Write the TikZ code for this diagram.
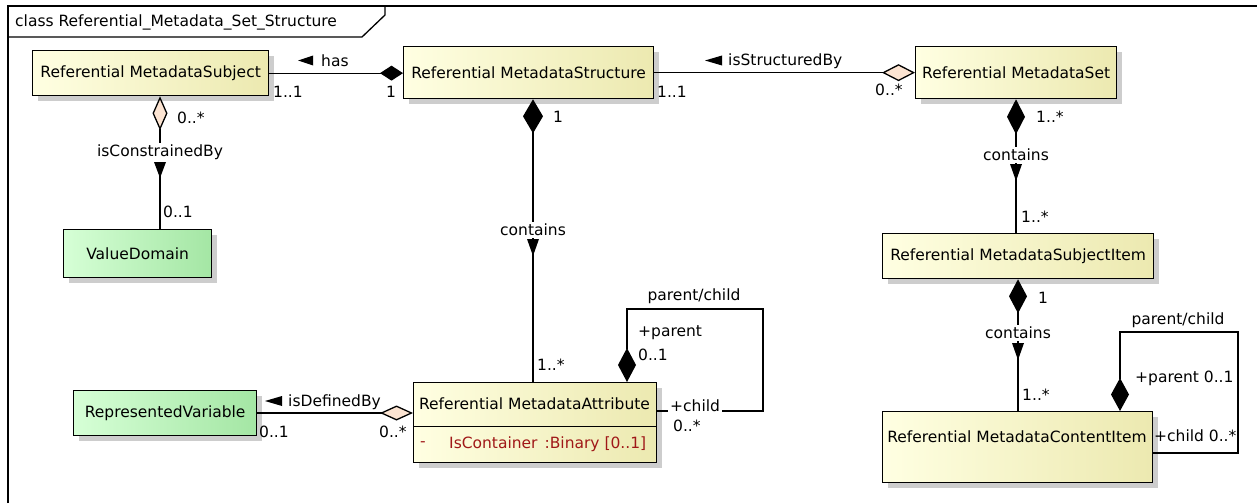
\documentclass[tikz,border=0pt]{standalone}
\usepackage{fontspec}
\setmainfont{DejaVu Sans}
\usetikzlibrary{arrows.meta,shadows}
\definecolor{ylL}{RGB}{255,255,226}
\definecolor{ylM}{RGB}{255,255,214}
\definecolor{ylR}{RGB}{236,233,176}
\definecolor{grL}{RGB}{214,255,214}
\definecolor{grM}{RGB}{200,250,200}
\definecolor{grR}{RGB}{164,230,164}
\definecolor{peach}{RGB}{252,228,210}
\definecolor{attrred}{RGB}{160,24,24}
\definecolor{shadowgray}{RGB}{205,205,205}
\tikzset{
  boxbase/.style={draw=black, line width=1.3pt, rectangle, inner sep=0pt, anchor=north west,
    drop shadow={shadow xshift=5pt, shadow yshift=-5pt, fill=shadowgray, opacity=1}},
  yel/.style={boxbase, left color=ylL, middle color=ylM, right color=ylR},
  grn/.style={boxbase, left color=grL, middle color=grM, right color=grR},
  conn/.style={line width=1.3pt, black},
  lbl/.style={inner sep=1pt, font=\fontsize{15.5}{17}\selectfont},
  wlbl/.style={lbl, fill=white, inner sep=2pt},
  mult/.style={lbl, anchor=west},
}
\begin{document}
\begin{tikzpicture}[x=1pt, y=-1pt, font=\fontsize{15.5}{17}\selectfont]
\useasboundingbox (0,0) rectangle (1257,503);

% frame
\draw[line width=2pt] (8,503) -- (8,6) -- (1257,6);
\draw[line width=1.3pt] (8,37) -- (362,37) -- (385,15) -- (385,6);
\node[lbl, anchor=west] (title) at (14,22) {class Referential\_Metadata\_Set\_Structure};

% classes
\node[yel, minimum width=236pt, minimum height=45pt] (subj) at (32,50) {Referential MetadataSubject};
\node[yel, minimum width=250pt, minimum height=52pt] (struct) at (403,46) {Referential MetadataStructure};
\node[yel, minimum width=201pt, minimum height=52pt] (set) at (915,46) {Referential MetadataSet};
\node[yel, minimum width=271pt, minimum height=45pt] (sitem) at (882,233) {Referential MetadataSubjectItem};
\node[grn, minimum width=148pt, minimum height=48pt] (vd) at (63,229) {ValueDomain};
\node[grn, minimum width=183pt, minimum height=45pt] (rv) at (73,390) {RepresentedVariable};
\node[yel, minimum width=243pt, minimum height=80pt] (attr) at (413,382) {};
\node[yel, minimum width=270pt, minimum height=71pt] (citem) at (882,411) {};
\draw[line width=1pt] (attr.west |- 0,426) coordinate (dv1) -- (dv1 -| attr.east);
\node[lbl] (attrname) at (534.5,404) {Referential MetadataAttribute};
\node[lbl, anchor=west, text=attrred] (attrdash) at (419,444) {-};
\node[lbl, anchor=west, text=attrred] (attrval) at (448,444) {IsContainer\hspace{7pt}:Binary [0..1]};
\node[lbl] (citemname) at (1017,437) {Referential MetadataContentItem};

% helper coordinates
\coordinate (xc) at (160,0);
\coordinate (xs) at (533,0);
\coordinate (xset) at (1016,0);
\coordinate (xsi) at (1018,0);
\coordinate (yd) at (0,413);

% has
\draw[conn, {Diamond[length=23pt, width=15pt]}-] (struct.west |- subj.east) -- (subj.east);
\fill (298,60.5) -- (313,55.5) -- (313,65.5) -- cycle;
\node[lbl, anchor=west] (lhas) at (320,61) {has};
\node[mult] (m1) at (272,92) {1..1};
\node[mult] (m2) at (385,92) {1};

% isStructuredBy
\draw[conn, {Diamond[length=33pt, width=17pt, fill=peach]}-] (set.west) -- (struct.east);
\fill (705,60.5) -- (722,55.5) -- (722,65.5) -- cycle;
\node[lbl, anchor=west] (lstr) at (727,61) {isStructuredBy};
\node[mult] (m3) at (656,92) {1..1};
\node[mult] (m4) at (874,90) {0..*};

% isConstrainedBy
\draw[conn, {Diamond[length=34pt, width=15pt, fill=peach]}-] (subj.south -| xc) -- (vd.north -| xc);
\node[wlbl] (lcon) at (160,152) {isConstrainedBy};
\fill (154,162) -- (166,162) -- (160,178) -- cycle;
\node[mult] (m5) at (176,118) {0..*};
\node[mult] (m6) at (162,212) {0..1};

% Structure contains Attribute
\draw[conn, {Diamond[length=34pt, width=20pt]}-] (struct.south -| xs) -- (attr.north -| xs);
\node[wlbl] (lc1) at (533,230) {contains};
\fill (527,239) -- (539,239) -- (533,256) -- cycle;
\node[mult] (m7) at (552,117) {1};
\node[mult] (m8) at (536,365) {1..*};

% Set contains SubjectItem
\draw[conn, {Diamond[length=35pt, width=18pt]}-] (set.south -| xset) -- (sitem.north -| xset);
\node[wlbl] (lc2) at (1016,155) {contains};
\fill (1010,164) -- (1022,164) -- (1016,181) -- cycle;
\node[mult] (m9) at (1035,117) {1..*};
\node[mult] (m10) at (1020,217) {1..*};

% SubjectItem contains ContentItem
\draw[conn, {Diamond[length=34pt, width=18pt]}-] (sitem.south -| xsi) -- (citem.north -| xsi);
\node[wlbl] (lc3) at (1018,333) {contains};
\fill (1012,343) -- (1024,343) -- (1018,360) -- cycle;
\node[mult] (m11) at (1037,298) {1};
\node[mult] (m12) at (1021,395) {1..*};

% isDefinedBy
\draw[conn, {Diamond[length=33pt, width=15pt, fill=peach]}-] (attr.west |- yd) -- (rv.east |- yd);
\fill (265,401) -- (282,396) -- (282,406) -- cycle;
\node[lbl, anchor=west] (ldef) at (287,402) {isDefinedBy};
\node[mult] (m13) at (258,432) {0..1};
\node[mult] (m14) at (378,432) {0..*};

% Attribute self association
\coordinate (la1) at (627,309);
\coordinate (la2) at (763,411);
\draw[conn, {Diamond[length=34pt, width=18pt]}-] (attr.north -| la1) -- (la1) -- (la1 -| la2) -- (la2) -- (la2 -| attr.east);
\node[lbl] (lpc1) at (694,296) {parent/child};
\node[mult] (m15) at (637,333) {+parent};
\node[mult] (m16) at (637,355) {0..1};
\node[mult, fill=white, inner sep=2pt] (m17) at (668,406) {+child};
\node[mult] (m18) at (672,426) {0..*};

% ContentItem self association
\coordinate (lc1a) at (1120,332);
\coordinate (lc2a) at (1238,453);
\draw[conn, {Diamond[length=33pt, width=18pt]}-] (citem.north -| lc1a) -- (lc1a) -- (lc1a -| lc2a) -- (lc2a) -- (lc2a -| citem.east);
\node[lbl] (lpc2) at (1178,320) {parent/child};
\node[mult] (m19) at (1134,378) {+parent 0..1};
\node[mult] (m20) at (1153,436) {+child 0..*};
\end{tikzpicture}
\end{document}
